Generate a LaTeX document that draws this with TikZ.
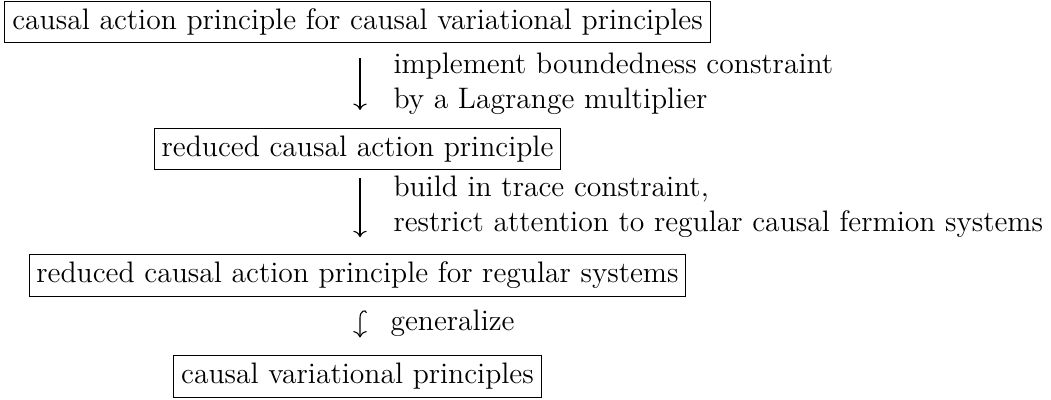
\documentclass[tikz,border=0pt]{standalone}
\usepackage{amsmath}
\usetikzlibrary{arrows.meta}

\begin{document}
\begin{tikzpicture}[x=0.405pt,y=0.405pt,yscale=-1,xscale=1,
  every node/.style={font=\fontsize{12pt}{14.4pt}\selectfont},
  framebox/.style={draw, line width=0.4pt, inner sep=3pt},
  steplabel/.style={inner sep=0pt, align=left},
  cmarrow/.style={line width=0.45pt, -{Computer Modern Rightarrow}}]
\useasboundingbox (0,0) rectangle (1051,399);

% Text Node
\draw (357.5,21.8) node [framebox] (cap) {causal action principle for causal variational principles};
% Text Node
\draw (357.5,149) node [framebox] (rcap) {reduced causal action principle};
% Text Node
\draw (357.5,275.5) node [framebox] (rcapreg) {reduced causal action principle for regular systems};
% Text Node
\draw (357.5,376.5) node [framebox] (cvp) {causal variational principles};

%Straight Lines
\draw [cmarrow] ([shift={(2.5,15)}]cap.south) -- ([shift={(2.5,-18)}]rcap.north);
%Straight Lines
\draw [cmarrow] ([shift={(2.5,8)}]rcap.south) -- ([shift={(2.5,-17)}]rcapreg.north);
%Curve Lines
\draw [cmarrow] ([shift={(9,16)}]rcapreg.south) .. controls +(-1,-4) and +(0,-7) .. ([shift={(2.5,21)}]rcapreg.south) -- ([shift={(2.5,-18)}]cvp.north);

% Text Node
\draw (393,52) node [anchor=north west] [steplabel] (lbla) {implement boundedness constraint\\by a Lagrange multiplier};
% Text Node
\draw (393,175) node [anchor=north west] [steplabel] (lblb) {build in trace constraint,\\restrict attention to regular causal fermion systems};
% Text Node
\draw (390,330) node [anchor=base west] [steplabel] (lblc) {generalize};

\end{tikzpicture}
\end{document}
